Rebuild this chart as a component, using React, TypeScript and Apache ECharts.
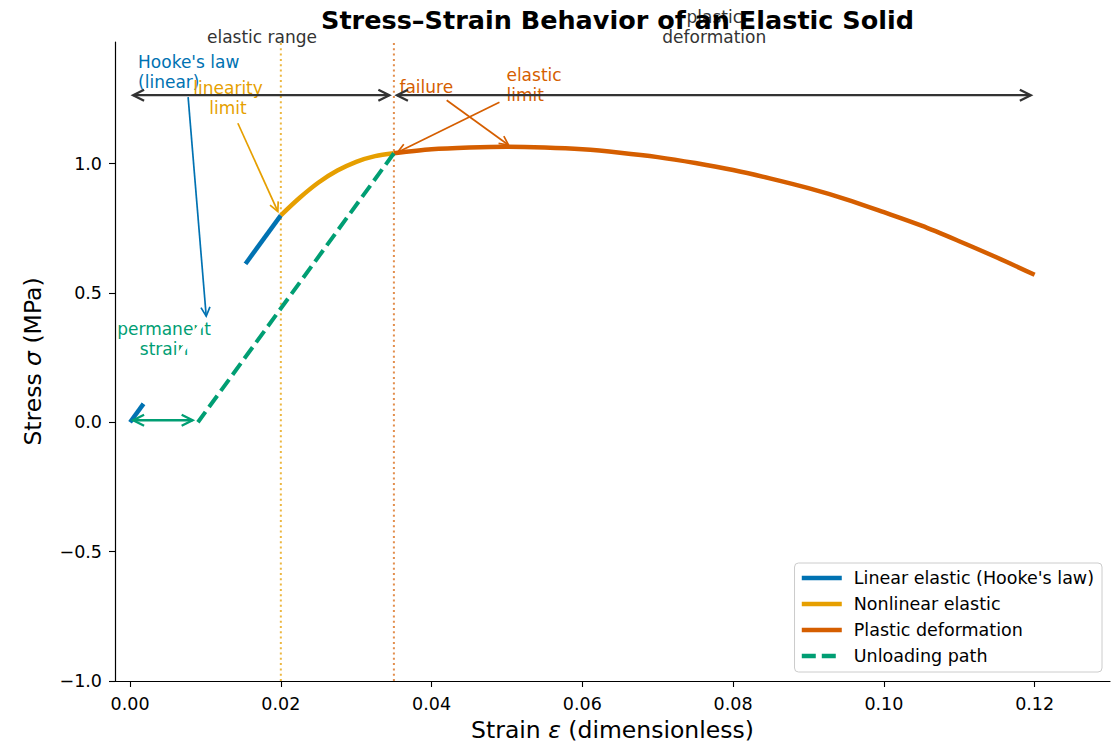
import React, { useEffect, useRef } from 'react';
import * as echarts from 'echarts';

const FONT = 'DejaVu Sans';

// ---- data ----
// linear elastic line, drawn in two visible pieces (middle part is hidden in the reference)
const LINEAR_LOW_X = [0, 0.0018];
const LINEAR_LOW_Y = [0, 0.072];
const LINEAR_HIGH_X = [0.0153, 0.02];
const LINEAR_HIGH_Y = [0.612, 0.8];

const NONLINEAR_X = [0.02, 0.0225, 0.025, 0.0275, 0.03, 0.0325, 0.035];
const NONLINEAR_Y = [0.8, 0.868, 0.927, 0.973, 1.007, 1.029, 1.04];

const PLASTIC_X = [0.035, 0.04, 0.045, 0.05, 0.055, 0.06, 0.065, 0.07, 0.075, 0.08, 0.085, 0.09, 0.095, 0.1, 0.105, 0.11, 0.115, 0.12];
const PLASTIC_Y = [1.04, 1.055, 1.062, 1.065, 1.062, 1.055, 1.042, 1.025, 1.002, 0.975, 0.942, 0.905, 0.862, 0.812, 0.76, 0.7, 0.637, 0.57];

const UNLOAD_X = [0.035, 0.009];
const UNLOAD_Y = [1.04, 0.0];

// hidden part of the linear line (white, occludes the label text)
const MASK_X = [0.0018, 0.0153];
const MASK_Y = [0.072, 0.612];

const LIMIT_LINEAR = 0.02;
const LIMIT_ELASTIC = 0.035;

const X_TICKS = [0, 0.02, 0.04, 0.06, 0.08, 0.1, 0.12];
const Y_TICKS = [-1, -0.5, 0, 0.5, 1];
const X_MIN = -0.002;
const X_MAX = 0.13;
const Y_MIN = -1.0;
const Y_MAX = 1.47;

const SERIES_NAMES = ["Linear elastic (Hooke's law)", 'Nonlinear elastic', 'Plastic deformation', 'Unloading path'];

// annotation texts (data coords)
const LABEL_TEXTS = ['elastic range', 'plastic\ndeformation', "Hooke's law\n(linear)", 'linearity\nlimit', 'failure', 'elastic\nlimit', 'permanent\nstrain'];
const LABEL_X = [0.0175, 0.0775, 0.00106, 0.013, 0.0393, 0.04993, 0.0045];
const LABEL_Y = [1.45, 1.45, 1.353, 1.255, 1.295, 1.303, 0.321];
const LABEL_ALIGN = ['center', 'center', 'left', 'center', 'center', 'left', 'center'];
const LABEL_VALIGN = ['bottom', 'bottom', 'middle', 'middle', 'middle', 'middle', 'middle'];
const LABEL_COLOR = ['#333333', '#333333', '#0072B2', '#E69F00', '#D55E00', '#D55E00', '#009E73'];

// annotation arrows (data coords)
const ARROW_X1 = [0.0004, 0.0354, 0.0077, 0.0143, 0.042, 0.049, 0.0004];
const ARROW_Y1 = [1.2645, 1.2645, 1.257, 1.156, 1.245, 1.237, 0.008];
const ARROW_X2 = [0.0344, 0.1195, 0.0101, 0.0196, 0.0502, 0.0355, 0.0083];
const ARROW_Y2 = [1.2645, 1.2645, 0.41, 0.815, 1.072, 1.044, 0.008];
const ARROW_BOTH = [true, true, false, false, false, false, true];
const ARROW_COLOR = ['#333333', '#333333', '#0072B2', '#E69F00', '#D55E00', '#D55E00', '#009E73'];
const ARROW_WIDTH = [2.3, 2.3, 1.7, 1.7, 1.7, 1.7, 2.3];

const zip = (xs: number[], ys: number[]) => xs.map((x, i) => [x, ys[i]]);

function head(tip: number[], from: number[], len: number, hw: number) {
  const dx = tip[0] - from[0];
  const dy = tip[1] - from[1];
  const d = Math.hypot(dx, dy) || 1;
  const ux = dx / d;
  const uy = dy / d;
  const nx = -uy;
  const ny = ux;
  return [
    [tip[0] - ux * len + nx * hw, tip[1] - uy * len + ny * hw],
    [tip[0], tip[1]],
    [tip[0] - ux * len - nx * hw, tip[1] - uy * len - ny * hw],
  ];
}

function buildOption() {
  const lineBase = { type: 'line', symbol: 'none', silent: true, z: 2 } as any;
  const tickFont = 17.5;
  const nameFont = 23.5;
  return {
    animation: false,
    textStyle: { fontFamily: FONT },
    title: {
      text: 'Stress–Strain Behavior of an Elastic Solid',
      left: 612.5,
      top: 2,
      textAlign: 'center',
      textStyle: { fontFamily: FONT, fontSize: 25.5, fontWeight: 'bold', color: '#000' },
      z: 10,
    },
    grid: { left: 115, right: 7, top: 42, bottom: 63, containLabel: false, outerBoundsMode: 'none' },
    legend: {
      data: SERIES_NAMES,
      orient: 'vertical',
      right: 15,
      top: 563,
      itemWidth: 40,
      itemHeight: 18,
      itemGap: 8,
      padding: [6, 8, 7, 5],
      borderColor: '#cccccc',
      borderWidth: 1,
      borderRadius: 4,
      backgroundColor: '#ffffff',
      selectedMode: false,
      itemStyle: { opacity: 0 },
      lineStyle: { width: 4.5 },
      textStyle: { fontSize: 17.5, color: '#000', fontFamily: FONT, padding: [0, 0, 0, 7] },
    },
    xAxis: {
      type: 'value',
      min: X_MIN,
      max: X_MAX,
      name: 'Strain {i|ε} (dimensionless)',
      nameLocation: 'middle',
      nameGap: 37,
      nameTextStyle: {
        fontSize: nameFont,
        color: '#000',
        fontFamily: FONT,
        rich: { i: { fontStyle: 'italic', fontSize: nameFont, fontFamily: FONT, color: '#000' } },
      },
      axisLine: { onZero: false, lineStyle: { color: '#000', width: 1.2 } },
      axisTick: { customValues: X_TICKS, length: 6, lineStyle: { color: '#000', width: 1.1 } },
      axisLabel: {
        customValues: X_TICKS,
        formatter: (v: number) => v.toFixed(2),
        fontSize: tickFont,
        color: '#000',
        fontFamily: FONT,
        margin: 14,
      },
      splitLine: { show: false },
    },
    yAxis: {
      type: 'value',
      min: Y_MIN,
      max: Y_MAX,
      name: 'Stress {i|σ} (MPa)',
      nameLocation: 'middle',
      nameGap: 70,
      nameTextStyle: {
        fontSize: nameFont,
        color: '#000',
        fontFamily: FONT,
        rich: { i: { fontStyle: 'italic', fontSize: nameFont, fontFamily: FONT, color: '#000' } },
      },
      axisLine: { show: true, onZero: false, lineStyle: { color: '#000', width: 1.2 } },
      axisTick: { show: true, customValues: Y_TICKS, length: 6, lineStyle: { color: '#000', width: 1.1 } },
      axisLabel: {
        customValues: Y_TICKS,
        formatter: (v: number) => v.toFixed(1).replace('-', '−'),
        fontSize: tickFont,
        color: '#000',
        fontFamily: FONT,
        margin: 13,
      },
      splitLine: { show: false },
    },
    series: [
      {
        ...lineBase,
        name: 'limit-linear',
        data: [[LIMIT_LINEAR, Y_MIN], [LIMIT_LINEAR, Y_MAX]],
        lineStyle: { color: '#E69F00', width: 2, type: [2, 3.3], opacity: 0.75 },
        z: 1,
      },
      {
        ...lineBase,
        name: 'limit-elastic',
        data: [[LIMIT_ELASTIC, Y_MIN], [LIMIT_ELASTIC, Y_MAX]],
        lineStyle: { color: '#D55E00', width: 2, type: [2, 3.3], opacity: 0.7 },
        z: 1,
      },
      {
        ...lineBase,
        name: SERIES_NAMES[0],
        data: zip(LINEAR_LOW_X, LINEAR_LOW_Y),
        color: '#0072B2',
        lineStyle: { color: '#0072B2', width: 4.5 },
      },
      {
        ...lineBase,
        name: SERIES_NAMES[0],
        data: zip(LINEAR_HIGH_X, LINEAR_HIGH_Y),
        color: '#0072B2',
        lineStyle: { color: '#0072B2', width: 4.5 },
      },
      {
        ...lineBase,
        name: SERIES_NAMES[1],
        data: zip(NONLINEAR_X, NONLINEAR_Y),
        smooth: 0.3,
        color: '#E69F00',
        lineStyle: { color: '#E69F00', width: 4.5 },
      },
      {
        ...lineBase,
        name: SERIES_NAMES[2],
        data: zip(PLASTIC_X, PLASTIC_Y),
        smooth: 0.3,
        color: '#D55E00',
        lineStyle: { color: '#D55E00', width: 4.5 },
      },
      {
        ...lineBase,
        name: SERIES_NAMES[3],
        data: zip(UNLOAD_X, UNLOAD_Y),
        color: '#009E73',
        lineStyle: { color: '#009E73', width: 4, type: [14, 6] },
      },
      {
        type: 'custom',
        name: 'labels',
        silent: true,
        z: 3,
        data: LABEL_X.map((x, i) => [x, LABEL_Y[i], i]),
        renderItem: (_p: any, api: any) => {
          const i = api.value(2);
          const pt = api.coord([api.value(0), api.value(1)]);
          return {
            type: 'text',
            x: pt[0],
            y: pt[1],
            style: {
              text: LABEL_TEXTS[i],
              fill: LABEL_COLOR[i],
              fontSize: 17,
              fontFamily: FONT,
              align: LABEL_ALIGN[i],
              verticalAlign: LABEL_VALIGN[i],
              lineHeight: 20,
            },
          };
        },
      },
      {
        ...lineBase,
        name: 'mask',
        data: zip(MASK_X, MASK_Y),
        lineStyle: { color: '#ffffff', width: 5 },
        z: 4,
      },
      {
        type: 'custom',
        name: 'arrows',
        silent: true,
        z: 5,
        data: ARROW_X1.map((x, i) => [x, ARROW_Y1[i], ARROW_X2[i], ARROW_Y2[i], i]),
        renderItem: (_p: any, api: any) => {
          const i = api.value(4);
          const a = api.coord([api.value(0), api.value(1)]);
          const b = api.coord([api.value(2), api.value(3)]);
          const w = ARROW_WIDTH[i];
          const len = w >= 2 ? 11 : 9;
          const hw = w >= 2 ? 5.5 : 4.5;
          const style = { stroke: ARROW_COLOR[i], lineWidth: w, fill: 'none' };
          const children: any[] = [
            { type: 'line', shape: { x1: a[0], y1: a[1], x2: b[0], y2: b[1] }, style },
            { type: 'polyline', shape: { points: head(b, a, len, hw) }, style },
          ];
          if (ARROW_BOTH[i]) {
            children.push({ type: 'polyline', shape: { points: head(a, b, len, hw) }, style });
          }
          return { type: 'group', children };
        },
      },
    ],
  };
}

export default function App() {
  const ref = useRef<HTMLDivElement>(null);
  useEffect(() => {
    document.body.style.margin = '0';
    const chart = echarts.init(ref.current as HTMLDivElement, null, { renderer: 'svg' });
    chart.setOption(buildOption() as any);
    return () => chart.dispose();
  }, []);
  return <div ref={ref} style={{ width: 1117, height: 744 }} />;
}
